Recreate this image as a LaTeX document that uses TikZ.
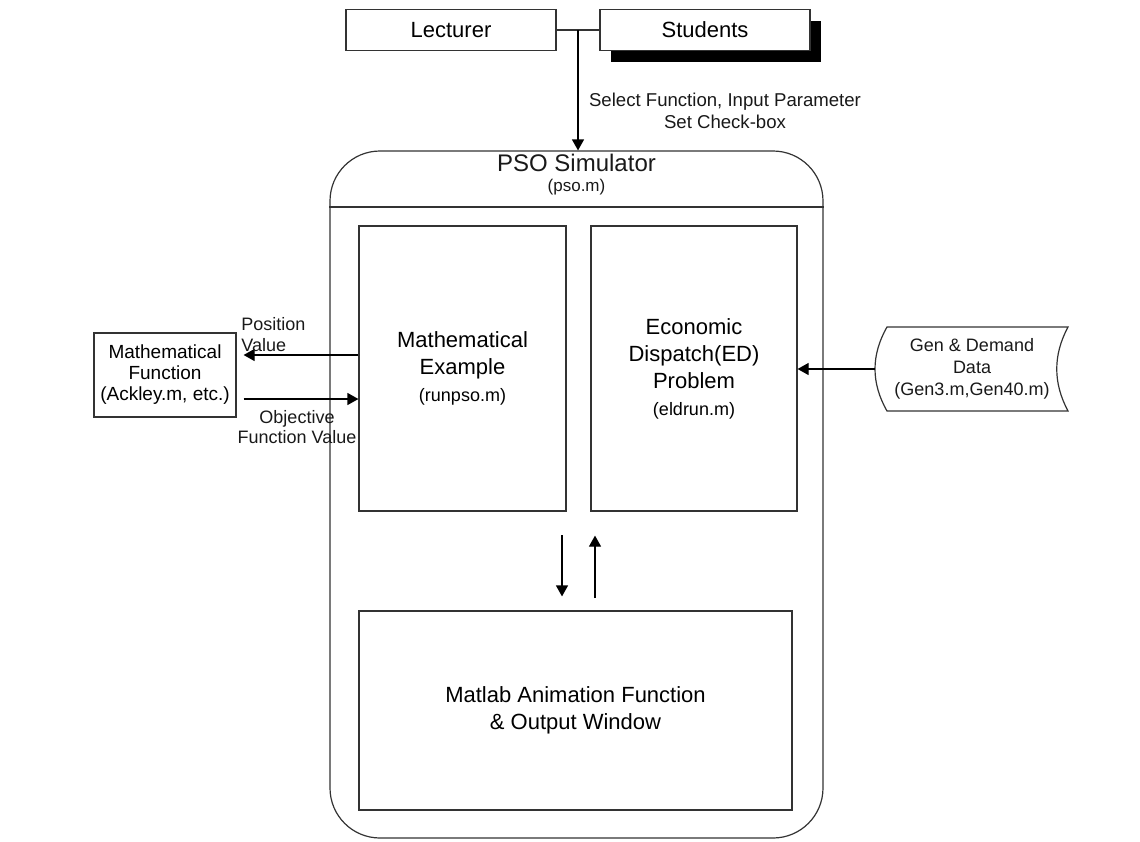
\documentclass[tikz,border=0pt]{standalone}
\usepackage{fontspec}
\setmainfont{Liberation Sans}
\usepackage{tikz}
\usetikzlibrary{arrows.meta,shadows}

\newcommand{\fsz}[2]{\fontsize{#1}{#2}\selectfont}

\begin{document}
\begin{tikzpicture}[x=0.5pt,y=-0.5pt,
        ln/.style={draw=black!80,line width=0.6pt},
        box/.style={ln,fill=white,align=center,inner sep=0pt},
        lbl/.style={align=center,inner sep=0pt,text=black!90},
        arr/.style={draw=black,line width=0.6pt,-{Triangle[width=6pt,length=5.5pt]}}]
        \useasboundingbox (0,0) rectangle (1140,841);

        \node[box,fill=none,rounded corners=25pt,minimum width=246.5pt,minimum height=343.5pt] (pso) at (576.5,494.5) {};
        \draw[ln] (pso.west |- 0,207) -- (pso.east |- 0,207);
        \node[lbl,font=\fsz{12}{14}] (psoname) at (576.5,163) {PSO Simulator};
        \node[lbl,font=\fsz{8.5}{10}] (psofile) at (576.5,187) {(pso.m)};

        \node[box,minimum width=105pt,minimum height=20.5pt,font=\fsz{11}{13}] (lect) at (451,30) {Lecturer};
        \node[box,minimum width=105pt,minimum height=20.5pt,font=\fsz{11}{13},
                drop shadow={shadow xshift=5.5pt,shadow yshift=-5.5pt,fill=black,opacity=1}] (stud) at (705,30) {Students};
        \coordinate (jn) at (578,30);
        \draw[ln] (lect) -- (stud);
        \draw[arr] (jn) -- (jn |- pso.north);
        \node[lbl,font=\fsz{9.3}{11}] (sel) at (725,111) {Select Function, Input Parameter\\Set Check-box};

        \node[box,minimum width=103.5pt,minimum height=142.5pt,font=\fsz{11}{13.5}] (mex) at (462.5,368.5)
                {Mathematical\\Example\\{\fsz{9}{13.5}(runpso.m)}};
        \node[box,minimum width=103pt,minimum height=142.5pt,font=\fsz{11}{13.5}] (ed) at (694,368.5)
                {Economic\\Dispatch(ED)\\Problem\\{\fsz{9}{13.5}(eldrun.m)}};
        \node[box,minimum width=216.5pt,minimum height=99.5pt,font=\fsz{11}{13.5}] (mat) at (575.5,710.5)
                {Matlab Animation Function\\\& Output Window};

        \coordinate (dn) at (562,535);
        \coordinate (up) at (595,598);
        \draw[arr,shorten >=7pt] (dn) -- (dn |- mat.north);
        \draw[arr,shorten >=12pt] (up) -- (up |- ed.south);

        \node[box,minimum width=71pt,minimum height=42pt,font=\fsz{9.5}{10.5}] (mfun) at (165,375)
                {Mathematical\\Function\\(Ackley.m, etc.)};
        \draw[arr,shorten >=3.5pt] (mex.west |- 0,355) -- (mfun.east |- 0,355);
        \draw[arr,shorten <=3.5pt] (mfun.east |- 0,399) -- (mex.west |- 0,399);
        \node[lbl,align=left,anchor=west,font=\fsz{9}{10.5}] (pos) at (241,335) {Position\\Value};
        \node[lbl,font=\fsz{9}{10}] (obj) at (297,427) {Objective\\Function Value};

        \draw[ln] (887,327) -- (1068,327) .. controls (1053,355) and (1053,383) .. (1068,411)
                -- (887,411) .. controls (871,383) and (871,355) .. (887,327) -- cycle;
        \node[lbl,font=\fsz{9}{11}] (data) at (972,369) {Gen \& Demand\\Data\\(Gen3.m,Gen40.m)};
        \coordinate (dataw) at (875,369);
        \draw[arr] (dataw) -- (ed.east |- dataw);
\end{tikzpicture}
\end{document}
